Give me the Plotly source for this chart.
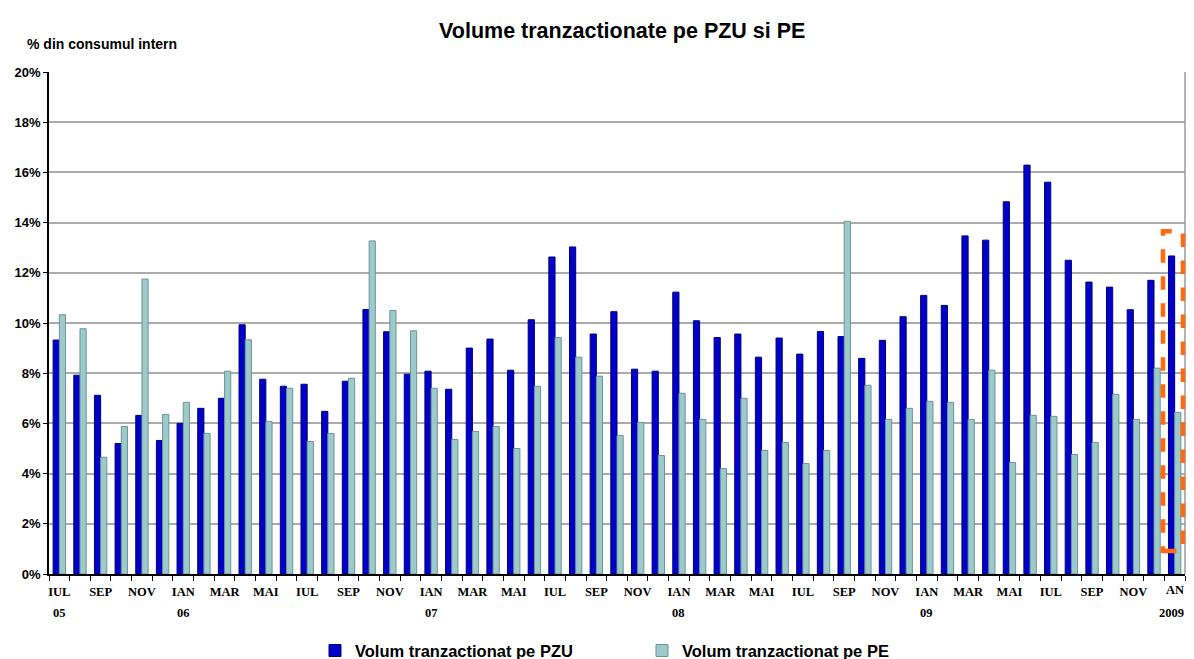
import plotly.graph_objects as go

# monthly values, Jul 2005 .. Jan 2010 (% of internal consumption)
months = ["IUL", "AUG", "SEP", "OCT", "NOV", "DEC",
          "IAN", "FEB", "MAR", "APR", "MAI", "IUN"]
pzu = [9.32, 7.92, 7.12, 5.2, 6.32, 5.32,
       6.0, 6.6, 7.0, 9.93, 7.76, 7.48, 7.56, 6.48, 7.68, 10.54, 9.65, 7.96,
       8.08, 7.36, 9.0, 9.36, 8.12, 10.13, 12.63, 13.03, 9.56, 10.45, 8.16, 8.08,
       11.23, 10.09, 9.42, 9.56, 8.64, 9.4, 8.76, 9.66, 9.46, 8.59, 9.31, 10.25,
       11.1, 10.7, 13.47, 13.3, 14.83, 16.29, 15.61, 12.5, 11.63, 11.43, 10.53, 11.7,
       12.67]
pe = [10.33, 9.77, 4.65, 5.88, 11.75, 6.36,
      6.84, 5.6, 8.08, 9.33, 6.08, 7.4, 5.28, 5.6, 7.8, 13.27, 10.5, 9.69,
      7.4, 5.36, 5.68, 5.88, 5.0, 7.48, 9.42, 8.64, 7.88, 5.52, 6.04, 4.72,
      7.2, 6.16, 4.2, 7.0, 4.92, 5.24, 4.4, 4.92, 14.05, 7.52, 6.16, 6.6,
      6.88, 6.84, 6.16, 8.12, 4.44, 6.32, 6.28, 4.76, 5.24, 7.16, 6.16, 8.2,
      6.44]
year_pos = [0, 6, 18, 30, 42]
year_text = ["05", "06", "07", "08", "09"]
last_month, last_year = "AN", "2009"  # cut at the edge in the original
y_ticks = [0, 2, 4, 6, 8, 10, 12, 14, 16, 18, 20]

x = list(range(len(pzu)))
labels = [months[i % 12] for i in x]
labels[-1] = ""

# the page adds an 8px body margin and the right strip is not visible,
# so the figure is kept a bit smaller than the window
fig = go.Figure()
fig.add_bar(x=x, y=pzu, name="Volum tranzactionat pe PZU",
            marker=dict(color="#0000C8", line=dict(color="#00007A", width=1)))
fig.add_bar(x=x, y=pe, name="Volum tranzactionat pe PE",
            marker=dict(color="#9CCACA", line=dict(color="#6E9494", width=1)))

fig.update_layout(
    width=1179, height=651,
    margin=dict(l=41, r=2, t=64, b=85, autoexpand=False),
    plot_bgcolor="white", paper_bgcolor="white",
    barmode="group", bargap=0.4, bargroupgap=0,
    title=dict(text="Volume tranzactionate pe PZU si PE",
               x=0.521, xanchor="center", y=0.966, yanchor="middle",
               font=dict(family="Liberation Sans", size=21.5, color="black", weight="bold")),
    showlegend=True,
    legend=dict(orientation="h", x=0.522, xanchor="center", y=-0.153, yanchor="middle",
                entrywidth=282, traceorder="normal",
                font=dict(family="Liberation Sans", size=16.5, color="black", weight="bold")),
    font=dict(family="Liberation Sans", color="black"),
)

fig.update_xaxes(
    range=[-0.5, len(pzu) - 0.5], automargin=False,
    tickmode="array", tickvals=x[::2], ticktext=labels[::2],
    ticks="", tickangle=0, ticklabelstandoff=5,
    tickfont=dict(family="Liberation Serif", size=12.5, color="black", weight="bold"),
    showline=True, linecolor="black", linewidth=1.5,
    showgrid=False, zeroline=False,
    minor=dict(tickmode="linear", tick0=-0.5, dtick=1, ticks="outside",
               ticklen=5, tickcolor="black", tickwidth=1, showgrid=False),
)
fig.update_yaxes(
    range=[0, 20], automargin=False,
    tickmode="array", tickvals=y_ticks, ticktext=[f"{v}%" for v in y_ticks],
    tickfont=dict(family="Liberation Sans", size=13, color="black", weight="bold"),
    ticks="outside", ticklen=4, tickcolor="black",
    showline=True, linecolor="black", linewidth=1.5,
    showgrid=True, gridcolor="#ABABAB", gridwidth=2, zeroline=False,
)

serif = dict(family="Liberation Serif", size=12.5, color="black", weight="bold")

# year row under the month labels
for pos, txt in zip(year_pos, year_text):
    fig.add_annotation(text=txt, x=pos, xref="x", y=0, yref="paper", yanchor="middle",
                       yshift=-39, showarrow=False, font=serif)

# last month label, right aligned at the edge
fig.add_annotation(text=last_month, xref="paper", yref="paper", x=1.0009, y=0,
                   xanchor="right", yanchor="middle", yshift=-16, showarrow=False, font=serif)
fig.add_annotation(text=last_year, xref="paper", yref="paper", x=1.0009, y=0,
                   xanchor="right", yanchor="middle", yshift=-39, showarrow=False, font=serif)

# y axis caption
fig.add_annotation(text="% din consumul intern", xref="paper", yref="paper",
                   x=-0.021, y=1.036, xanchor="left", yanchor="bottom", showarrow=False,
                   font=dict(family="Liberation Sans", size=14, color="black", weight="bold"))

# right border of plot area
fig.add_shape(type="line", xref="paper", yref="paper", x0=1, x1=1, y0=0, y1=1,
              line=dict(color="#9A9A9A", width=1.5))

# dashed highlight around the last month
fig.add_shape(type="rect", xref="paper", yref="y", x0=0.9806, x1=0.9982, y0=0.92, y1=13.66,
              line=dict(color="#FF6A10", width=4.5, dash="dash"))

fig.write_html("out.html")
